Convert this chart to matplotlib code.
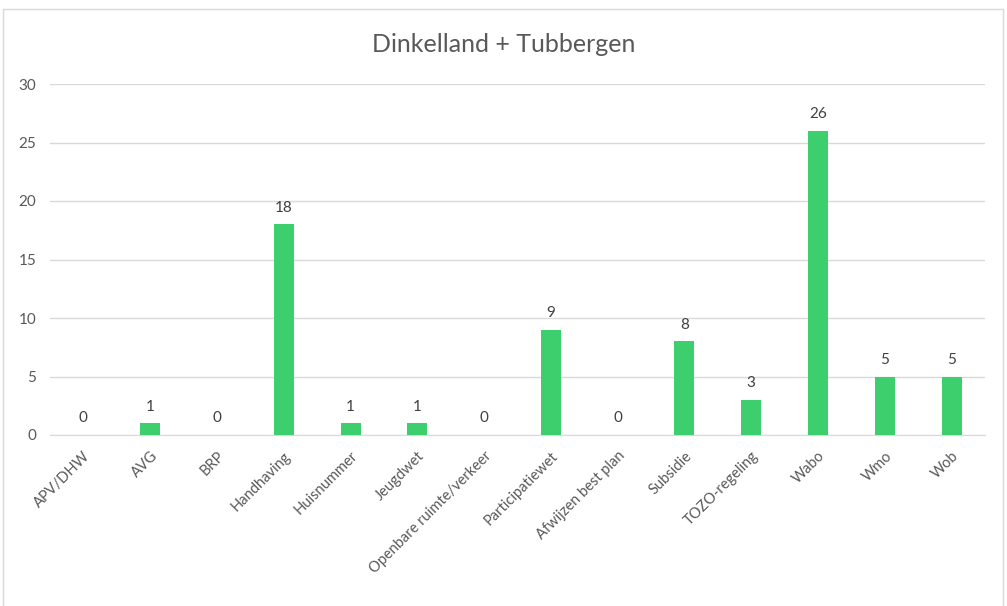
import matplotlib
matplotlib.use("Agg")
import matplotlib.pyplot as plt
from matplotlib.patches import Rectangle

categories = ["APV/DHW", "AVG", "BRP", "Handhaving", "Huisnummer", "Jeugdwet",
              "Openbare ruimte/verkeer", "Participatiewet", "Afwijzen best plan",
              "Subsidie", "TOZO-regeling", "Wabo", "Wmo", "Wob"]
counts = [0, 1, 0, 18, 1, 1, 0, 9, 0, 8, 3, 26, 5, 5]
yticks = [0, 5, 10, 15, 20, 25, 30]

GREEN = "#3dcf6d"
TXT = "#595959"
GRID = "#d9d9d9"

plt.rcParams["font.family"] = ["Lato", "DejaVu Sans"]

fig = plt.figure(figsize=(10.07, 6.06), dpi=100)
fig.patches.append(Rectangle((3 / 1007, -0.01), 1000 / 1007, 1 - 9 / 606 + 0.01,
                             transform=fig.transFigure, fill=False,
                             edgecolor="#d9d9d9", lw=1))
ax = fig.add_axes([50 / 1007, 1 - 435 / 606, 935 / 1007, (435 - 84) / 606])

x = list(range(len(categories)))
bars = ax.bar(x, counts, width=0.3, color=GREEN, zorder=3)
for xi, v in zip(x, counts):
    ax.annotate(str(v), (xi, v), xytext=(0, 7), textcoords="offset points",
                ha="center", va="bottom", fontsize=11, color="#404040")

ax.set_xlim(-0.5, len(categories) - 0.5)
ax.set_ylim(0, 30)
ax.set_yticks(yticks)
ax.yaxis.grid(True, color=GRID, lw=1, zorder=0)
ax.set_xticks(x)
ax.set_xticklabels(categories, rotation=45, ha="right", rotation_mode="anchor",
                   fontsize=10.5, color=TXT)
ax.tick_params(axis="y", length=0, labelsize=11, labelcolor=TXT, pad=10)
ax.tick_params(axis="x", length=0, pad=10)
for s in ["top", "right", "left"]:
    ax.spines[s].set_visible(False)
ax.spines["bottom"].set_color(GRID)

fig.text(0.5, 1 - 45 / 606, "Dinkelland + Tubbergen", ha="center", va="center",
         fontsize=18, color=TXT)

fig.savefig("out.png", dpi=100)
